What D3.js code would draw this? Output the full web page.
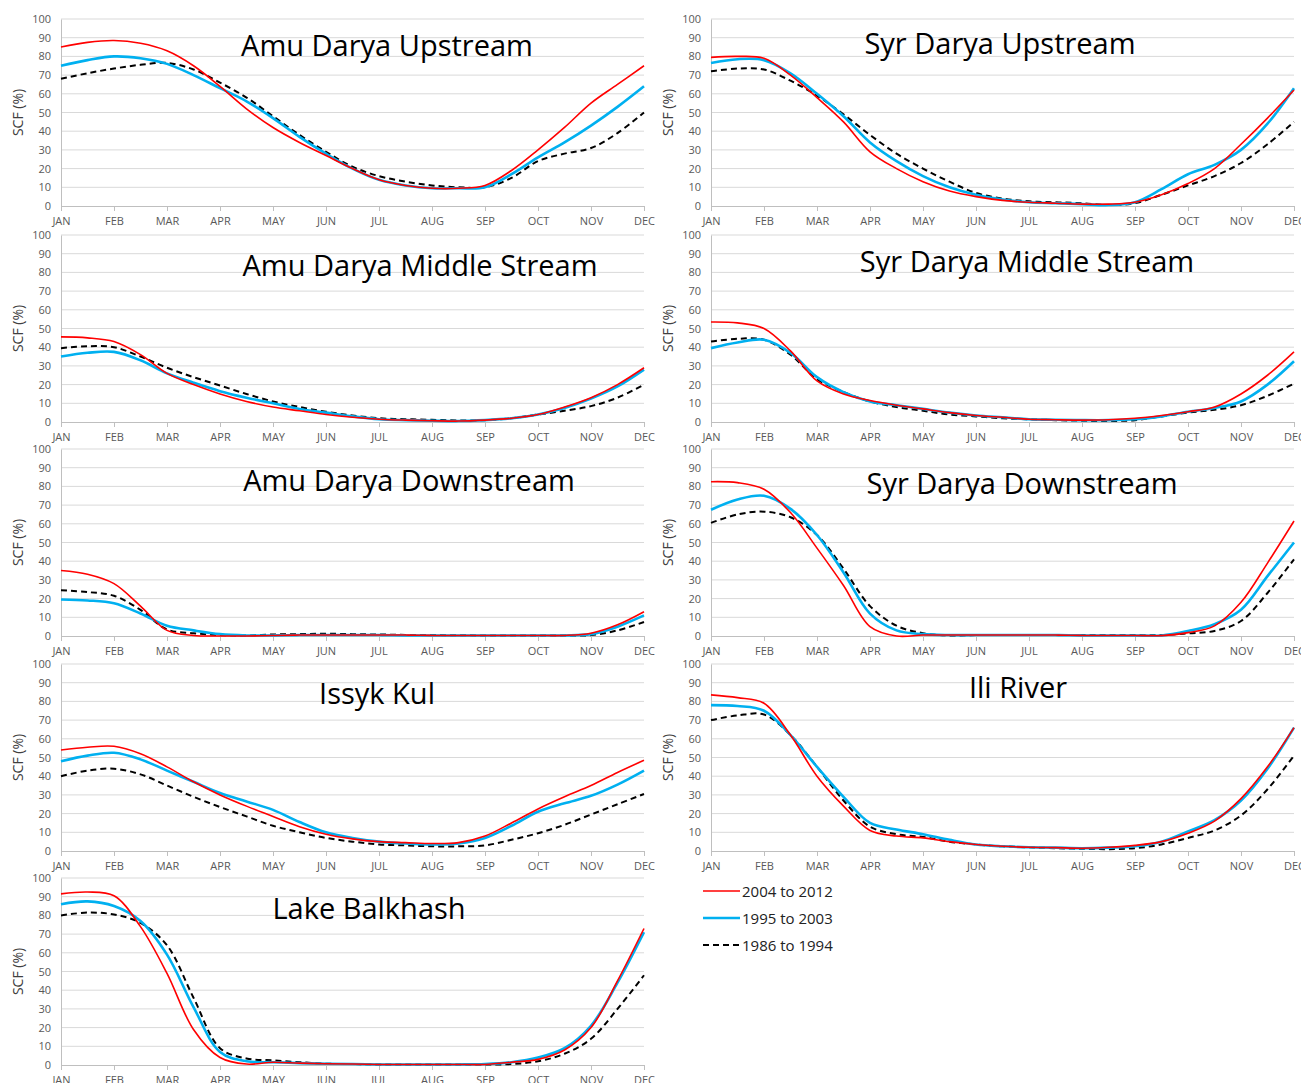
<!DOCTYPE html>
<meta charset="utf-8">
<style>
    body { margin: 0; background: #fff; }
    .grid line { stroke: #d9d9d9; stroke-width: 1; }
    .axis text { font: 11px 'Open Sans', sans-serif; fill: #595959; }
    .axis path, .axis line { stroke: #bfbfbf; }
    .ytitle { font: 14px 'Open Sans', sans-serif; fill: #404040; }
    .ptitle { font: 29px 'Open Sans', sans-serif; fill: #000; }
    .legend text { font: 15px 'Open Sans', sans-serif; fill: #222; }
</style>
<body>
<script src="https://d3js.org/d3.v7.min.js"></script>
<script>
// months on the axis; series are read at half-month steps (JAN, mid JAN, FEB, ...)
var months = ["JAN","FEB","MAR","APR","MAY","JUN","JUL","AUG","SEP","OCT","NOV","DEC"];
var yTicks = [0,10,20,30,40,50,60,70,80,90,100];
var seriesNames = ["2004 to 2012","1995 to 2003","1986 to 1994"];

var amuUp_2012 = [85,87.5,88.5,87,83,75,64,52,42,34,27,20,14,11,9.5,9.5,11,19,30,42,55,65,75];
var amuUp_2003 = [75,78,80,79,76,70,63,56,47,37,28,20,14,11,9.5,9.5,10,17,26,34,43,53,64];
var amuUp_1994 = [68,71,73.5,75.5,76.5,73,66,58,48,38,29,21,16,13,11,10,10,15,24,28,31,39,50];

var syrUp_2012 = [79.5,80,79,70,58,45,29,20,13,8,5,3,2,1.5,1,1,2,6,12,20,33,47,62];
var syrUp_2003 = [76.5,78.5,78,71,60,48,34,24,16,10,6,3.5,2,1.5,1,0.5,2,9,17,22,30,44,63];
var syrUp_1994 = [72,73.5,73,67,59,49,38,28,20,13,7,4,2.5,2,1.5,0.5,1.5,6,11,16,23,33,45];

var amuMid_2012 = [45.5,45,43,36,26,20,15,11,8,6,4,2.5,1.5,1,0.7,0.5,1,2,4,8,13,20,29];
var amuMid_2003 = [35,37,37.5,33,26,21,16.5,13,10,7,5,3,1.5,1,0.7,0.5,1,2,4,7.5,12.5,19,28];
var amuMid_1994 = [39.5,40.5,40,35,29,24,19.5,15,11,8,5.5,3.5,2,1.5,1.2,0.8,1,2,4,6,8.5,13,20];

var syrMid_2012 = [53.5,53,50,38,22,15,11.5,9,7,5,3.5,2.5,1.5,1.2,1,1.2,2,3.5,5.5,8,15,25,37.5];
var syrMid_2003 = [39.5,42.5,44,37,24,16,11,9,7,5,3.5,2.5,1.5,1.2,1,1,1.5,3,5.5,7.5,11,20,32.5];
var syrMid_1994 = [43,44.5,44,36,23,16,11,8,6,4,3,2,1.5,1,0.7,0.5,1,3,5,6.5,9,14,20.5];

var amuDown_2012 = [35,33,28,16,3,0.3,0,0,0.3,0.5,0.5,0.5,0.5,0.5,0.3,0.3,0.3,0.3,0.3,0.3,1.5,6,13];
var amuDown_2003 = [19.5,19,17.5,12,5.5,3,1,0.3,0.3,0.5,0.5,0.5,0.5,0.3,0.3,0.3,0.3,0.3,0.3,0.3,1,5,11];
var amuDown_1994 = [24.5,23.5,21.5,14,3.5,1.5,0.5,0.3,0.8,1,1.2,1,0.8,0.6,0.5,0.4,0.3,0.3,0.3,0.3,0.5,3,7.5];

var syrDown_2012 = [82.5,82,78.5,66,47,27,5,0,0.5,0.5,0.5,0.5,0.5,0.5,0.3,0.3,0.3,0.2,1.8,5.4,18,39,61.5];
var syrDown_2003 = [67.5,73,75,68,54,34,12,3,1,0.5,0.5,0.5,0.5,0.5,0.3,0.3,0.3,0.3,2.7,6.3,14,32,50];
var syrDown_1994 = [60.5,65,66.5,63.5,54,36,16,5.5,1.5,0.3,0.5,0.5,0.5,0.5,0.5,0.5,0.5,0.5,1.4,2.7,8,23,41];

var issyk_2012 = [54,55.5,56,52,45,37,30,24,18.5,13,9,6.5,5,4.5,4,4.5,8,15,22.5,29,35,42,48.5];
var issyk_2003 = [48,51,52.5,49,43,37,31,26.5,22,15.5,10,7,5,4,3.5,4,7,13.5,21,25.5,29.5,35.5,43];
var issyk_1994 = [40,43,44,41,35,29,23.5,18.5,13.5,10,7,5,3.5,3,2.5,2.5,3,6,9.5,14,19.5,25,30.5];

var ili_2012 = [83.5,82,79,62,40,24,11,8,7,5,3.5,2.5,2,1.8,1.5,2,3,5,9.5,16,28,45,66];
var ili_2003 = [78,77.5,75,62,45,29,15,11.5,9,6,3.5,2.5,2,1.8,1.5,1.8,2.5,5,10.5,16.5,27,44,66];
var ili_1994 = [70,72.5,73,62,45,27,13,9,7.5,5,3.5,2.5,2,1.5,1.2,1,1.5,3.5,7,11,19,33,51];

var balk_2012 = [91.5,92.5,90.5,74,49,19,4,0.5,1.5,1,0.7,0.5,0.3,0.3,0.3,0.3,0.3,1.5,3,8,20,45,73];
var balk_2003 = [86,87.5,85,77,59,31,7,2,1.5,1,0.7,0.5,0.3,0.3,0.3,0.3,0.5,1.5,4,9,21,44,71];
var balk_1994 = [80,81.5,80.5,76,64,36,9,3.5,2.5,1.5,0.7,0.5,0.3,0.3,0.3,0.3,0.3,0.5,2,6,14,30,48];

var panels = [
    {title: "Amu Darya Upstream", series: [amuUp_2012, amuUp_2003, amuUp_1994]},
    {title: "Syr Darya Upstream", series: [syrUp_2012, syrUp_2003, syrUp_1994]},
    {title: "Amu Darya Middle Stream", series: [amuMid_2012, amuMid_2003, amuMid_1994]},
    {title: "Syr Darya Middle Stream", series: [syrMid_2012, syrMid_2003, syrMid_1994]},
    {title: "Amu Darya Downstream", series: [amuDown_2012, amuDown_2003, amuDown_1994]},
    {title: "Syr Darya Downstream", series: [syrDown_2012, syrDown_2003, syrDown_1994]},
    {title: "Issyk Kul", series: [issyk_2012, issyk_2003, issyk_1994]},
    {title: "Ili River", series: [ili_2012, ili_2003, ili_1994]},
    {title: "Lake Balkhash", series: [balk_2012, balk_2003, balk_1994]}
];

var styles = [
    {color: "#ff0000", width: 1.6, dash: null},
    {color: "#00b0f0", width: 2.6, dash: null},
    {color: "#000000", width: 2, dash: "6,4"}
];

var width = 1301, height = 1083;
var colX = [61, 711], rowY = [19, 235, 449, 664, 878];
var pw = 583, ph = 187;
// title centre / baseline offsets inside each panel
var titlePos = [[326,37],[289,35],[359,41],[316,37],[348,42],[311,45],[316,40],[307,34],[308,41]];

var svg = d3.select("body").append("svg")
    .attr("width", width)
    .attr("height", height);

var x = d3.scaleLinear().domain([0, 11]).range([0, pw]);
var y = d3.scaleLinear().domain([0, 100]).range([ph, 0]);

var line = d3.line()
    .x(function(d, i) { return x(i / 2) })
    .y(function(d) { return y(d) })
    .curve(d3.curveCatmullRom.alpha(0.5));

panels.forEach(function(p, k) {
    var g = svg.append("g")
        .attr("transform", "translate(" + colX[k % 2] + "," + rowY[Math.floor(k / 2)] + ")");

    g.append("g").attr("class", "grid")
        .selectAll("line")
        .data(yTicks.slice(1))
        .enter().append("line")
        .attr("x1", 0).attr("x2", pw)
        .attr("y1", function(d) { return y(d) })
        .attr("y2", function(d) { return y(d) });

    g.append("g").attr("class", "axis")
        .call(d3.axisLeft(y).tickValues(yTicks).tickSize(0).tickPadding(10));

    g.append("g").attr("class", "axis")
        .attr("transform", "translate(0," + ph + ")")
        .call(d3.axisBottom(x).tickValues(d3.range(12))
            .tickFormat(function(d) { return months[d] })
            .tickSize(5).tickSizeOuter(0).tickPadding(6));

    g.append("text").attr("class", "ytitle")
        .attr("transform", "translate(-38," + (ph / 2) + ") rotate(-90)")
        .attr("text-anchor", "middle")
        .text("SCF (%)");

    g.append("text").attr("class", "ptitle")
        .attr("x", titlePos[k][0]).attr("y", titlePos[k][1])
        .attr("text-anchor", "middle")
        .text(p.title);

    // draw oldest first so red sits on top
    [2, 1, 0].forEach(function(s) {
        g.append("path")
            .datum(p.series[s])
            .attr("fill", "none")
            .attr("stroke", styles[s].color)
            .attr("stroke-width", styles[s].width)
            .attr("stroke-dasharray", styles[s].dash)
            .attr("d", line);
    });
});

var legend = svg.append("g").attr("class", "legend")
    .attr("transform", "translate(703,891)");

seriesNames.forEach(function(name, i) {
    var row = legend.append("g").attr("transform", "translate(0," + (i * 27) + ")");
    row.append("line")
        .attr("x1", 0).attr("x2", 37)
        .attr("stroke", styles[i].color)
        .attr("stroke-width", styles[i].width)
        .attr("stroke-dasharray", styles[i].dash);
    row.append("text")
        .attr("x", 39).attr("y", 5.5)
        .text(name);
});
</script>
</body>
